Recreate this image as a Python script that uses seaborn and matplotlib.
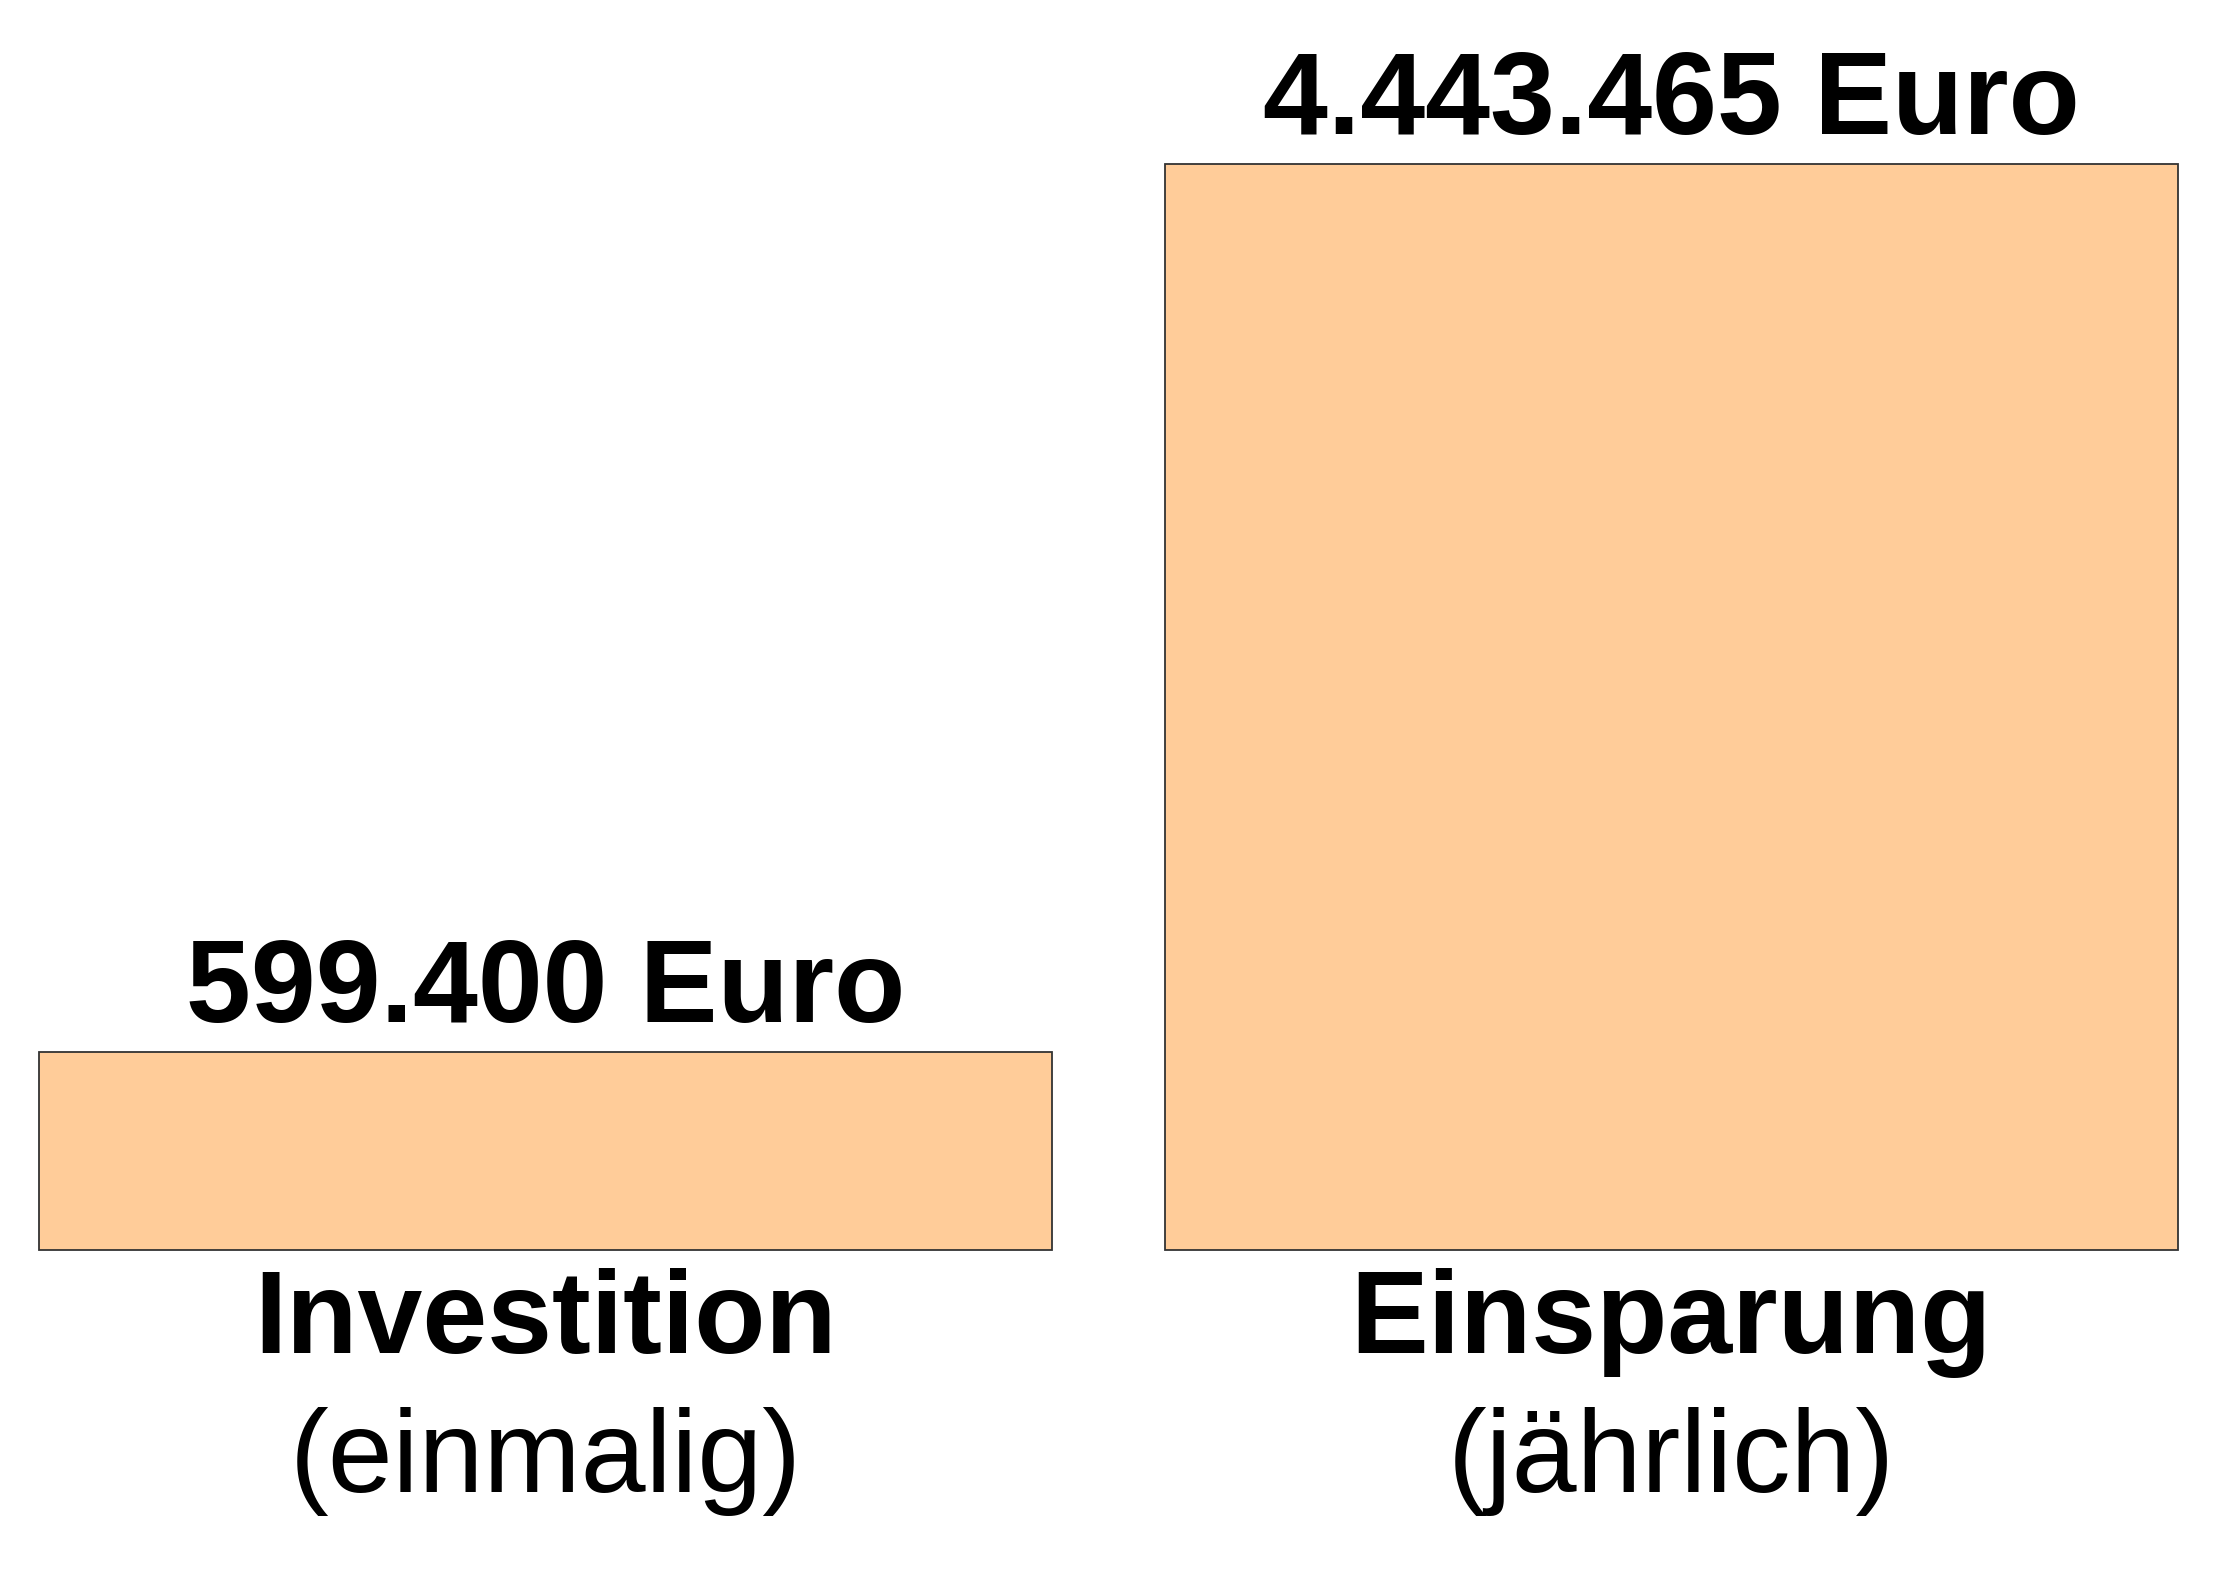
import matplotlib
matplotlib.use("Agg")
import matplotlib.pyplot as plt
import seaborn as sns

categories = ["Investition", "Einsparung"]
periods = ["(einmalig)", "(jährlich)"]
amounts = [599400, 4443465]
# bar heights as drawn in the picture (relative, not proportional to amounts)
bar_heights = [1.0, 5.48]

sns.set_style("white")
plt.rcParams["font.family"] = ["Liberation Sans", "DejaVu Sans"]
plt.rcParams["text.color"] = "black"

fig = plt.figure(figsize=(22.34, 15.75), dpi=100)
ax = fig.add_axes([0.0124, 0.2063, 0.9675, 0.6896])

sns.barplot(x=categories, y=bar_heights, color="#FFCC99", saturation=1,
            edgecolor="#333333", linewidth=1.3, width=0.9, ax=ax)
for p in ax.patches:
    p.set_clip_on(False)

ax.set_xlim(-0.46, 1.46)
ax.set_ylim(0, max(bar_heights))
ax.axis("off")

for i, (cat, per, amt, h) in enumerate(zip(categories, periods, amounts, bar_heights)):
    label = f"{amt:,}".replace(",", ".") + " Euro"
    ax.annotate(label, xy=(i, h), xytext=(0, 21.5), textcoords="offset points",
                ha="center", va="baseline", fontsize=84, fontweight="bold", color="black")
    ax.annotate(cat, xy=(i, 0), xytext=(0, -74), textcoords="offset points",
                ha="center", va="baseline", fontsize=84, fontweight="bold", color="black")
    ax.annotate(per, xy=(i, 0), xytext=(0, -174), textcoords="offset points",
                ha="center", va="baseline", fontsize=84, color="black")

fig.savefig("out.png", dpi=100)
